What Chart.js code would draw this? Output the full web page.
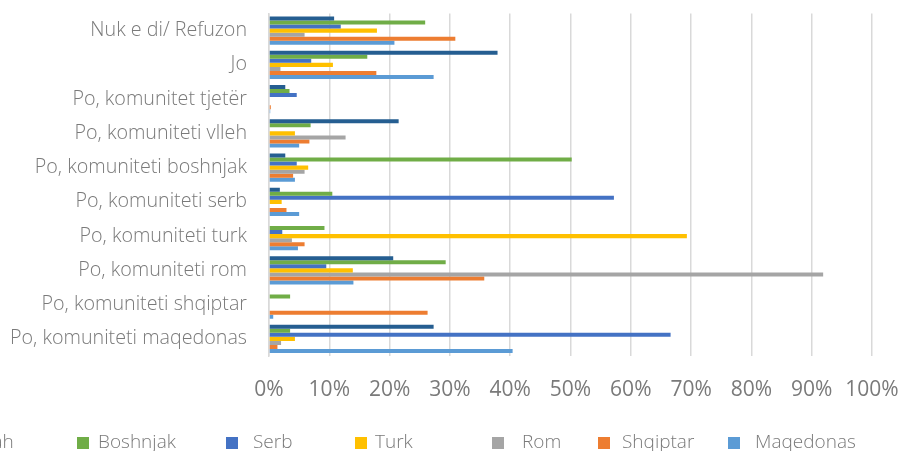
<!DOCTYPE html>
<html>
<head>
<meta charset="utf-8">
<script src="https://cdn.jsdelivr.net/npm/chart.js@4"></script>
<style>
  html, body { margin: 0; padding: 0; background: #fff; overflow: hidden; }
  #wrap { position: relative; width: 899px; height: 451px; overflow: hidden; }
  #chart { position: absolute; left: 0; top: 0; }
  .legend { position: absolute; top: 431px; height: 20px; white-space: nowrap;
            font-family: "Open Sans", sans-serif; font-weight: 300; font-size: 19px; color: #7a7a7a; line-height: 20px; }
  .legend i { display: inline-block; width: 12px; height: 12px; vertical-align: -1px; }
</style>
</head>
<body>
<div id="wrap">
  <canvas id="chart" width="940" height="451"></canvas>
</div>
<script>
const categories = [
    'Nuk e di/ Refuzon', 'Jo', 'Po, komunitet tjetër', 'Po, komuniteti vlleh',
    'Po, komuniteti boshnjak', 'Po, komuniteti serb', 'Po, komuniteti turk',
    'Po, komuniteti rom', 'Po, komuniteti shqiptar', 'Po, komuniteti maqedonas'
];
const seriesNames = ['Vllah', 'Boshnjak', 'Serb', 'Turk', 'Rom', 'Shqiptar', 'Maqedonas'];

const vllah     = [10.8, 37.9, 2.7, 21.5, 2.7, 1.8, 0, 20.6, 0, 27.3];
const boshnjak  = [25.9, 16.3, 3.4, 6.9, 50.2, 10.5, 9.2, 29.3, 3.5, 3.5];
const serb      = [11.9, 7.0, 4.6, 0, 4.6, 57.2, 2.2, 9.5, 0, 66.6];
const turk      = [17.9, 10.6, 0, 4.3, 6.5, 2.1, 69.3, 13.9, 0, 4.3];
const rom       = [5.9, 1.9, 0, 12.7, 5.9, 0, 3.8, 91.9, 0, 2.0];
const shqiptar  = [30.9, 17.8, 0.3, 6.7, 4.0, 2.9, 5.9, 35.7, 26.3, 1.4];
const maqedonas = [20.8, 27.3, 0.2, 5.0, 4.3, 5.0, 4.8, 14.0, 0.7, 40.4];

const xTicks = [0, 10, 20, 30, 40, 50, 60, 70, 80, 90, 100];

const seriesData = [vllah, boshnjak, serb, turk, rom, shqiptar, maqedonas];
const colors = ['#255E91', '#70AD47', '#4472C4', '#FFC000', '#A5A5A5', '#ED7D31', '#5B9BD5'];
// legend spots as in the cropped picture (first one falls off the left edge)
const legendBoxX = [-49, 77, 226, 355, 492, 598, 728];
const legendGap  = [10, 9, 15, 8, 18, 12, 15];

const ctx = document.getElementById('chart').getContext('2d');
new Chart(ctx, {
    type: 'bar',
    data: {
        labels: categories,
        datasets: seriesNames.map((name, i) => ({
            label: name,
            data: seriesData[i],
            backgroundColor: colors[i],
            borderWidth: 0,
            categoryPercentage: 0.82,
            barPercentage: 1.0
        }))
    },
    options: {
        indexAxis: 'y',
        responsive: false,
        animation: false,
        layout: { padding: { top: 13.5, right: 68, left: 0, bottom: 0 } },
        plugins: { legend: { display: false }, tooltip: { enabled: false } },
        scales: {
            x: {
                min: 0,
                max: 100,
                afterBuildTicks: (scale) => { scale.ticks = xTicks.map(v => ({ value: v })); },
                afterFit: (scale) => {
                    scale.height = 95;
                    scale.paddingLeft = 0;
                    scale.paddingRight = 0;
                },
                grid: { color: '#d9d9d9', lineWidth: 1.5, drawTicks: false },
                border: { display: false },
                ticks: {
                    padding: 21,
                    color: '#7a7a7a',
                    font: { family: 'Open Sans', size: 21 },
                    callback: (v) => v + '%'
                }
            },
            y: {
                afterFit: (scale) => {
                    scale.width = 269;
                    scale.paddingTop = 0;
                    scale.paddingBottom = 0;
                },
                grid: { display: false, drawTicks: false },
                border: { display: true, color: '#d9d9d9', width: 1.5 },
                ticks: {
                    padding: 22,
                    color: '#7a7a7a',
                    font: { family: 'Open Sans', size: 19.7, weight: 300 }
                }
            }
        }
    }
});

const wrap = document.getElementById('wrap');
seriesNames.forEach((name, i) => {
    const el = document.createElement('div');
    el.className = 'legend';
    el.style.left = legendBoxX[i] + 'px';
    el.innerHTML = '<i style="background:' + colors[i] + '"></i><span style="margin-left:' + legendGap[i] + 'px">' + name + '</span>';
    wrap.appendChild(el);
});
</script>
</body>
</html>
